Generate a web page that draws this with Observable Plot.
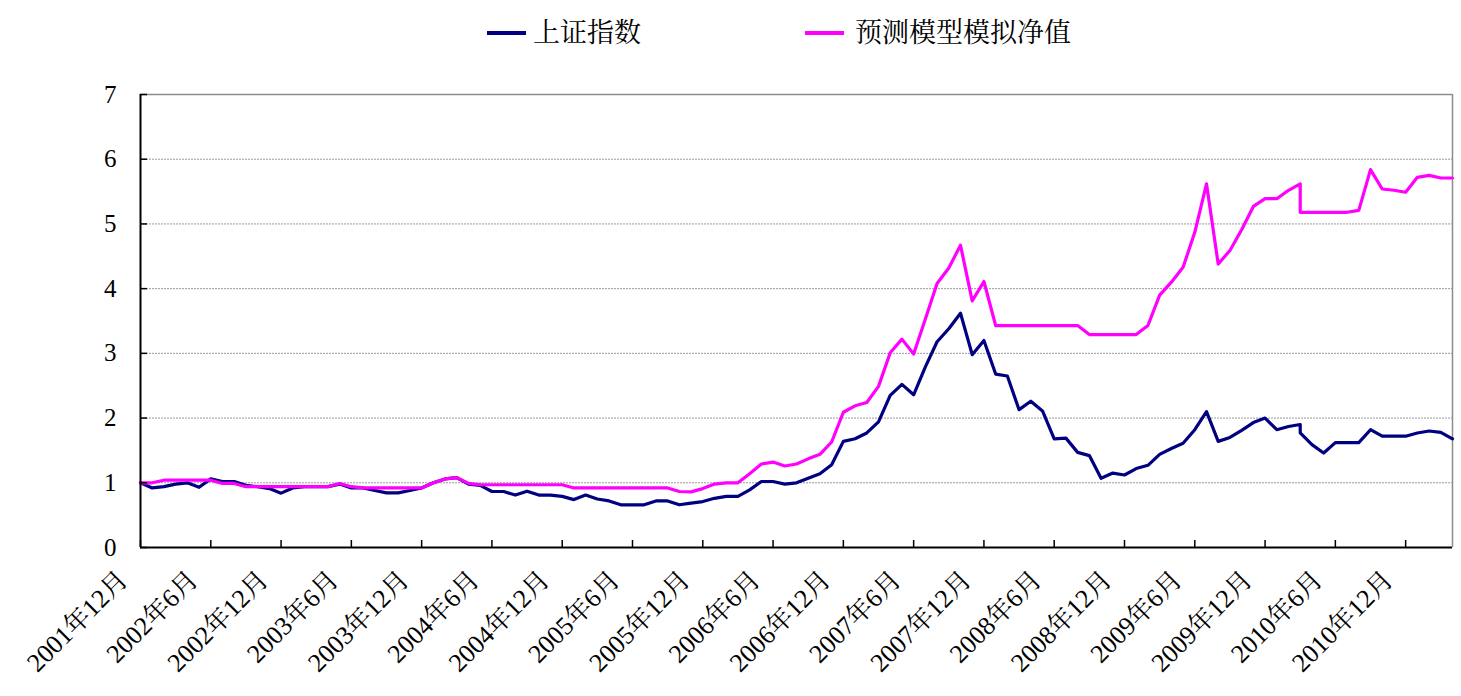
<!DOCTYPE html>
<html>
<head>
<meta charset="utf-8">
<script src="https://cdn.jsdelivr.net/npm/d3@7"></script>
<script src="https://cdn.jsdelivr.net/npm/@observablehq/plot@0.6"></script>
<style>
  html, body { margin: 0; padding: 0; background: #fff; }
  #wrap { width: 1461px; height: 696px; position: relative; overflow: hidden; }
  #legend { position: relative; width: 1461px; height: 60px; font-family: "Liberation Serif", "Noto Serif CJK SC", "Noto Sans CJK SC", serif; }
  .sw { position: absolute; height: 4px; top: 31px; }
  .lt { position: absolute; top: 15px; font-size: 27px; line-height: 36px; color: #000; white-space: nowrap; }
  svg { display: block; }
</style>
</head>
<body>
<div id="wrap">
  <div id="legend"></div>
  <div id="chart"></div>
</div>
<script>
// ---- data ----
const seriesNames = ["上证指数", "预测模型模拟净值"];
const seriesColors = ["#000080", "#ff00ff"];
const tickLabels = ["2001年12月","2002年6月","2002年12月","2003年6月","2003年12月","2004年6月",
  "2004年12月","2005年6月","2005年12月","2006年6月","2006年12月","2007年6月","2007年12月",
  "2008年6月","2008年12月","2009年6月","2009年12月","2010年6月","2010年12月"];
const yTicks = [0, 1, 2, 3, 4, 5, 6, 7];
const firstMonth = "2001-12";
const lastMonth = "2011-04";
const repeatedMonth = "2010-03"; // two observations fall in this month
// 上证指数 (normalised), monthly, with the repeated month holding two values
const shIndex = [
  1.00, 0.92, 0.94, 0.98, 1.00, 0.93, 1.06, 1.02, 1.02, 0.96, 0.94, 0.91,
  0.84, 0.92, 0.94, 0.94, 0.94, 0.98, 0.92, 0.92, 0.88, 0.845, 0.845, 0.88,
  0.92, 1.00, 1.06, 1.08, 0.98, 0.96, 0.865, 0.865, 0.81, 0.87, 0.81, 0.81,
  0.79, 0.74, 0.81, 0.75, 0.72, 0.66, 0.66, 0.66, 0.72, 0.72, 0.66, 0.685,
  0.71, 0.76, 0.79, 0.79, 0.89, 1.02, 1.02, 0.98, 1.00, 1.07, 1.14, 1.28,
  1.64, 1.68, 1.77, 1.94, 2.35, 2.52, 2.36, 2.79, 3.18, 3.38, 3.62, 2.98,
  3.20, 2.68, 2.65, 2.13, 2.26, 2.11, 1.68, 1.69, 1.47, 1.42, 1.07, 1.15,
  1.12, 1.22, 1.27, 1.44, 1.53, 1.61, 1.82, 2.10, 1.64, 1.70, 1.81, 1.93,
  2.00, 1.82, 1.87, 1.90, 1.77, 1.59, 1.46, 1.62, 1.62, 1.62, 1.82, 1.72,
  1.72, 1.72, 1.77, 1.80, 1.78, 1.68
];
// 预测模型模拟净值
const modelNav = [
  1.00, 1.00, 1.04, 1.04, 1.04, 1.04, 1.04, 0.99, 0.99, 0.94, 0.94, 0.94,
  0.94, 0.94, 0.94, 0.94, 0.94, 0.99, 0.94, 0.92, 0.92, 0.92, 0.92, 0.92,
  0.92, 1.00, 1.06, 1.08, 0.99, 0.97, 0.97, 0.97, 0.97, 0.97, 0.97, 0.97,
  0.97, 0.92, 0.92, 0.92, 0.92, 0.92, 0.92, 0.92, 0.92, 0.92, 0.865, 0.86,
  0.91, 0.98, 1.00, 1.00, 1.14, 1.29, 1.32, 1.26, 1.29, 1.37, 1.44, 1.63,
  2.09, 2.19, 2.24, 2.49, 3.01, 3.22, 2.99, 3.53, 4.08, 4.32, 4.67, 3.81,
  4.11, 3.43, 3.43, 3.43, 3.43, 3.43, 3.43, 3.43, 3.43, 3.29, 3.29, 3.29,
  3.29, 3.29, 3.43, 3.90, 4.10, 4.33, 4.87, 5.62, 4.38, 4.59, 4.91, 5.27,
  5.39, 5.39, 5.52, 5.62, 5.18, 5.18, 5.18, 5.18, 5.18, 5.21, 5.84, 5.54,
  5.52, 5.49, 5.72, 5.75, 5.71, 5.71
];

// ---- build rows ----
const parseM = d3.utcParse("%Y-%m");
const fmtM = d3.utcFormat("%Y-%m");
const start = parseM(firstMonth);
const months = d3.utcMonth.range(start, d3.utcMonth.offset(parseM(lastMonth), 1));
const xs = [];
months.forEach((m, i) => { xs.push(i); if (fmtM(m) === repeatedMonth) xs.push(i); });
const rows = xs.map((x, j) => ({x, sh: shIndex[j], model: modelNav[j]}));
const xMax = months.length - 1;
const xTicks = tickLabels.map((_, i) => i * 6);

// ---- legend ----
const legend = document.getElementById("legend");
const legendPos = [[487, 533], [805, 855]];
seriesNames.forEach((name, i) => {
  const sw = document.createElement("div");
  sw.className = "sw";
  sw.style.left = legendPos[i][0] + "px";
  sw.style.width = "39px";
  sw.style.background = seriesColors[i];
  legend.appendChild(sw);
  const t = document.createElement("div");
  t.className = "lt";
  t.style.left = legendPos[i][1] + "px";
  t.textContent = name;
  legend.appendChild(t);
});

// ---- chart ----
const W = 1461, H = 636, mt = 34, mb = 149, ml = 140, mr = 9;
const plotW = W - ml - mr, plotH = H - mt - mb;
const font = '"Liberation Serif", "Noto Serif CJK SC", "Noto Sans CJK SC", serif';

const chart = Plot.plot({
  width: W, height: H,
  marginTop: mt, marginBottom: mb, marginLeft: ml, marginRight: mr,
  style: {fontFamily: font, background: "#fff", color: "#000"},
  x: {type: "linear", domain: [0, xMax]},
  y: {domain: [0, 7]},
  marks: [
    Plot.gridY(yTicks.slice(1, -1), {stroke: "#9a9a9a", strokeOpacity: 1, strokeDasharray: "2,1"}),
    Plot.ruleY([7], {stroke: "#8c8c8c", strokeWidth: 1.5}),
    Plot.ruleX([xMax], {stroke: "#8c8c8c", strokeWidth: 1.5}),
    Plot.line(rows, {x: "x", y: "sh", stroke: seriesColors[0], strokeWidth: 3.2, strokeLinejoin: "round"}),
    Plot.line(rows, {x: "x", y: "model", stroke: seriesColors[1], strokeWidth: 3.2, strokeLinejoin: "round"}),
    Plot.tickY(yTicks, {y: d => d, stroke: "#000", strokeWidth: 1.5, insetRight: plotW - 7}),
    Plot.tickX(xTicks, {x: d => d, stroke: "#000", strokeWidth: 1.5, insetTop: plotH - 7}),
    Plot.ruleX([0], {stroke: "#000", strokeWidth: 2}),
    Plot.ruleY([0], {stroke: "#000", strokeWidth: 2}),
    Plot.axisY(yTicks, {tickSize: 0, tickPadding: 24, fontSize: 25, label: null, tickFormat: d => String(d)}),
    Plot.axisX(xTicks, {tickSize: 0, tickRotate: -45, tickPadding: 28, dx: -17, fontSize: 26, label: null,
      tickFormat: d => tickLabels[d / 6]})
  ]
});
document.getElementById("chart").appendChild(chart);
</script>
</body>
</html>
